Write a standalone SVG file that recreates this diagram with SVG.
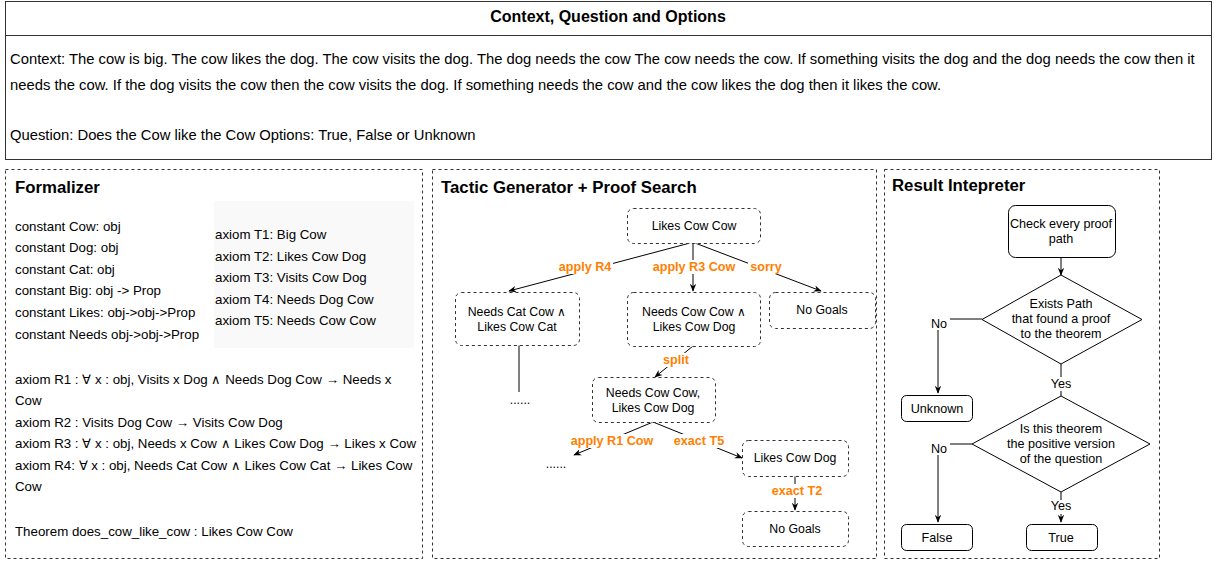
<svg xmlns="http://www.w3.org/2000/svg" width="1214" height="561" viewBox="0 0 1214 561">
<defs>
<style>
text{font-family:"Liberation Sans",Arial,sans-serif;fill:#000}
.t{font-size:13.3px}
.ct{font-size:14.8px}
.n{font-size:12.3px;text-anchor:middle}
.r{font-size:12.6px;text-anchor:middle}
.h{font-size:16.8px;font-weight:bold}
.lab{font-size:12.6px;font-weight:bold;fill:#FF8000;text-anchor:middle}
.panel{fill:#fff;stroke:#333;stroke-width:1;stroke-dasharray:3 3}
.dn{fill:#fff;stroke:#333;stroke-width:1;stroke-dasharray:3 3}
.sn{fill:#fff;stroke:#000;stroke-width:1}
.c{fill:none;stroke:#000;stroke-width:1}
.bg{fill:#fff}
</style>
<marker id="ar" viewBox="0 0 10 10" refX="9" refY="5" markerWidth="8" markerHeight="8" orient="auto" markerUnits="userSpaceOnUse">
<path d="M0,1 L10,5 L0,9 L3,5 Z" fill="#000"/>
</marker>
</defs>
<rect width="1214" height="561" fill="#fff"/>

<g id="context">
<rect x="5.5" y="1.5" width="1206" height="158" fill="#fff" stroke="#333"/>
<line x1="5.5" y1="35.5" x2="1211.5" y2="35.5" stroke="#333"/>
<text x="608" y="22" text-anchor="middle" style="font-size:16px;font-weight:bold">Context, Question and Options</text>
<text class="ct" x="10" y="64">Context: The cow is big. The cow likes the dog. The cow visits the dog. The dog needs the cow The cow needs the cow. If something visits the dog and the dog needs the cow then it</text>
<text class="ct" x="10" y="90">needs the cow. If the dog visits the cow then the cow visits the dog. If something needs the cow and the cow likes the dog then it likes the cow.</text>
<text class="ct" x="10" y="140">Question: Does the Cow like the Cow Options: True, False or Unknown</text>
</g>

<g id="formalizer">
<rect class="panel" x="5.5" y="169.5" width="417" height="389"/>
<text class="h" x="15" y="193">Formalizer</text>
<rect x="214" y="201" width="200" height="147" fill="#f9f9f9"/>
<text class="t" x="15" y="231">constant Cow: obj</text>
<text class="t" x="15" y="252">constant Dog: obj</text>
<text class="t" x="15" y="274">constant Cat: obj</text>
<text class="t" x="15" y="295">constant Big: obj -&gt; Prop</text>
<text class="t" x="15" y="317">constant Likes: obj-&gt;obj-&gt;Prop</text>
<text class="t" x="15" y="339">constant Needs obj-&gt;obj-&gt;Prop</text>
<text class="t" x="215" y="239">axiom T1: Big Cow</text>
<text class="t" x="215" y="261">axiom T2: Likes Cow Dog</text>
<text class="t" x="215" y="282">axiom T3: Visits Cow Dog</text>
<text class="t" x="215" y="304">axiom T4: Needs Dog Cow</text>
<text class="t" x="215" y="325">axiom T5: Needs Cow Cow</text>
<text class="t" x="15" y="384">axiom R1 : ∀ x : obj, Visits x Dog ∧ Needs Dog Cow → Needs x</text>
<text class="t" x="15" y="405">Cow</text>
<text class="t" x="15" y="427">axiom R2 : Visits Dog Cow → Visits Cow Dog</text>
<text class="t" x="15" y="448">axiom R3 : ∀ x : obj, Needs x Cow ∧ Likes Cow Dog → Likes x Cow</text>
<text class="t" x="15" y="470">axiom R4: ∀ x : obj, Needs Cat Cow ∧ Likes Cow Cat → Likes Cow</text>
<text class="t" x="15" y="491">Cow</text>
<text class="t" x="15" y="536">Theorem does_cow_like_cow : Likes Cow Cow</text>
</g>

<g id="tactic-panel">
<rect class="panel" x="432.5" y="169.5" width="444" height="389"/>
<text class="h" x="441" y="193">Tactic Generator + Proof Search</text>
</g>

<g id="result-panel">
<rect class="panel" x="884.5" y="169.5" width="275" height="389"/>
<text class="h" x="892" y="191">Result Intepreter</text>
</g>

<g id="connectors">
<line class="c" x1="690" y1="243" x2="509" y2="291" marker-end="url(#ar)"/>
<line class="c" x1="693" y1="243" x2="693" y2="291" marker-end="url(#ar)"/>
<line class="c" x1="695" y1="243" x2="821" y2="291" marker-end="url(#ar)"/>
<line class="c" x1="519" y1="345" x2="519" y2="392"/>
<line class="c" x1="693" y1="346" x2="655" y2="377" marker-end="url(#ar)"/>
<line class="c" x1="653" y1="422" x2="574" y2="455" marker-end="url(#ar)"/>
<line class="c" x1="653" y1="422" x2="742" y2="458" marker-end="url(#ar)"/>
<line class="c" x1="795" y1="476" x2="795" y2="510" marker-end="url(#ar)"/>
<line class="c" x1="1061" y1="257" x2="1061" y2="275" marker-end="url(#ar)"/>
<path class="c" d="M982,319 H938 V393" marker-end="url(#ar)"/>
<line class="c" x1="1061" y1="364" x2="1061" y2="396"/>
<path class="c" d="M972,444 H938 V522" marker-end="url(#ar)"/>
<line class="c" x1="1061" y1="492" x2="1061" y2="522" marker-end="url(#ar)"/>
<rect class="bg" x="557" y="260" width="56" height="14"/>
<text class="lab" x="585" y="271">apply R4</text>
<rect class="bg" x="651" y="260" width="86" height="14"/>
<text class="lab" x="694" y="271">apply R3 Cow</text>
<rect class="bg" x="748" y="260" width="36" height="14"/>
<text class="lab" x="766" y="271">sorry</text>
<rect class="bg" x="661" y="353" width="30" height="14"/>
<text class="lab" x="676" y="364">split</text>
<rect class="bg" x="568" y="434" width="88" height="14"/>
<text class="lab" x="612" y="445">apply R1 Cow</text>
<rect class="bg" x="671" y="434" width="58" height="14"/>
<text class="lab" x="699" y="445">exact T5</text>
<rect class="bg" x="768" y="484" width="58" height="14"/>
<text class="lab" x="797" y="495">exact T2</text>
<text class="n" x="520" y="404">......</text>
<text class="n" x="556" y="468">......</text>
<rect class="bg" x="928" y="316" width="22" height="14"/>
<text class="r" x="939" y="328">No</text>
<rect class="bg" x="1049" y="377" width="24" height="14"/>
<text class="r" x="1061" y="388">Yes</text>
<rect class="bg" x="928" y="441" width="22" height="14"/>
<text class="r" x="939" y="453">No</text>
<rect class="bg" x="1049" y="500" width="24" height="14"/>
<text class="r" x="1061" y="510">Yes</text>
</g>

<g id="node-likes-cow-cow">
<rect class="dn" x="627.5" y="208.5" width="133" height="35" rx="6"/>
<text class="n" x="694" y="230">Likes Cow Cow</text>
</g>
<g id="node-needs-cat">
<rect class="dn" x="455.5" y="292.5" width="124" height="53" rx="6"/>
<text class="n" x="517" y="316">Needs Cat Cow ∧</text>
<text class="n" x="517" y="331">Likes Cow Cat</text>
</g>
<g id="node-needs-cow-and">
<rect class="dn" x="627.5" y="292.5" width="133" height="54" rx="6"/>
<text class="n" x="694" y="316">Needs Cow Cow ∧</text>
<text class="n" x="694" y="331">Likes Cow Dog</text>
</g>
<g id="node-no-goals-1">
<rect class="dn" x="769.5" y="292.5" width="106" height="36" rx="6"/>
<text class="n" x="822" y="314">No Goals</text>
</g>
<g id="node-needs-cow-split">
<rect class="dn" x="592.5" y="377.5" width="123" height="45" rx="6"/>
<text class="n" x="653" y="397">Needs Cow Cow,</text>
<text class="n" x="653" y="412">Likes Cow Dog</text>
</g>
<g id="node-likes-cow-dog">
<rect class="dn" x="742.5" y="440.5" width="106" height="36" rx="6"/>
<text class="n" x="795" y="462">Likes Cow Dog</text>
</g>
<g id="node-no-goals-2">
<rect class="dn" x="742.5" y="511.5" width="106" height="35" rx="6"/>
<text class="n" x="795" y="533">No Goals</text>
</g>

<g id="node-check">
<rect class="sn" x="1008.5" y="205.5" width="107" height="52" rx="7"/>
<text class="r" x="1061" y="228">Check every proof</text>
<text class="r" x="1061" y="243">path</text>
</g>
<g id="node-exists">
<polygon class="sn" points="1061,275 1142,319.5 1061,364 982,319.5"/>
<text class="r" x="1061" y="308">Exists Path</text>
<text class="r" x="1061" y="323">that found a proof</text>
<text class="r" x="1061" y="338">to the theorem</text>
</g>
<g id="node-unknown">
<rect class="sn" x="901.5" y="395.5" width="71" height="26" rx="5"/>
<text class="r" x="937" y="413">Unknown</text>
</g>
<g id="node-positive">
<polygon class="sn" points="1061,396 1150,444 1061,492 972,444"/>
<text class="r" x="1061" y="433">Is this theorem</text>
<text class="r" x="1061" y="448">the positive version</text>
<text class="r" x="1061" y="463">of the question</text>
</g>
<g id="node-false">
<rect class="sn" x="901.5" y="524.5" width="71" height="26" rx="5"/>
<text class="r" x="937" y="542">False</text>
</g>
<g id="node-true">
<rect class="sn" x="1026.5" y="524.5" width="71" height="26" rx="5"/>
<text class="r" x="1061" y="542">True</text>
</g>
</svg>
